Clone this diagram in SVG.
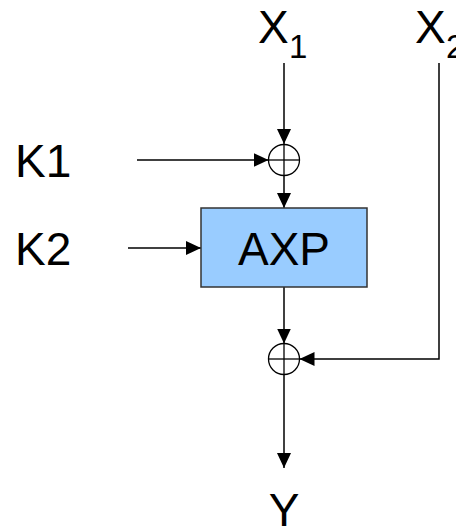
<svg xmlns="http://www.w3.org/2000/svg" width="456" height="528" viewBox="0 0 456 528">
<style>
.t{font-family:"Liberation Sans",Arial,sans-serif;font-size:46px;fill:#000}
.s{font-family:"Liberation Sans",Arial,sans-serif;font-size:33px;fill:#000}
.c{fill:none;stroke:#000;stroke-width:1.5}
.x{fill:none;stroke:#000;stroke-width:1.3}
</style>
<defs>
<marker id="a" markerUnits="userSpaceOnUse" markerWidth="15" markerHeight="14" refX="15" refY="7" orient="auto">
<path d="M0,0 L15,7 L0,14 z" fill="#000"/>
</marker>
</defs>
<g id="connectors">
<line class="c" x1="284" y1="63" x2="284" y2="144" marker-end="url(#a)"/>
<line class="c" x1="137" y1="160" x2="268.5" y2="160" marker-end="url(#a)"/>
<line class="c" x1="284" y1="175.5" x2="284" y2="208" marker-end="url(#a)"/>
<line class="c" x1="128" y1="248" x2="201" y2="248" marker-end="url(#a)"/>
<line class="c" x1="284" y1="287" x2="284" y2="343.5" marker-end="url(#a)"/>
<polyline class="c" points="439,63 439,359 299.5,359" marker-end="url(#a)"/>
<line class="c" x1="284" y1="374.5" x2="284" y2="468" marker-end="url(#a)"/>
</g>
<g id="xor1">
<circle class="x" cx="284" cy="160" r="15.5"/>
<line class="x" x1="268.5" y1="160" x2="299.5" y2="160"/>
<line class="x" x1="284" y1="144.5" x2="284" y2="175.5"/>
</g>
<g id="axp">
<rect x="201" y="208" width="166" height="79" fill="#99CCFF" stroke="#333" stroke-width="1.5"/>
<text class="t" x="284" y="265" text-anchor="middle">AXP</text>
</g>
<g id="xor2">
<circle class="x" cx="284" cy="359" r="15.5"/>
<line class="x" x1="268.5" y1="359" x2="299.5" y2="359"/>
<line class="x" x1="284" y1="343.5" x2="284" y2="374.5"/>
</g>
<g id="x1"><text class="t" x="258" y="43">X</text><text class="s" x="289" y="58">1</text></g>
<g id="x2"><text class="t" x="415" y="43">X</text><text class="s" x="446" y="58">2</text></g>
<g id="k1"><text class="t" x="15" y="177">K1</text></g>
<g id="k2"><text class="t" x="15" y="265">K2</text></g>
<g id="y"><text class="t" x="284" y="526" text-anchor="middle">Y</text></g>
</svg>
